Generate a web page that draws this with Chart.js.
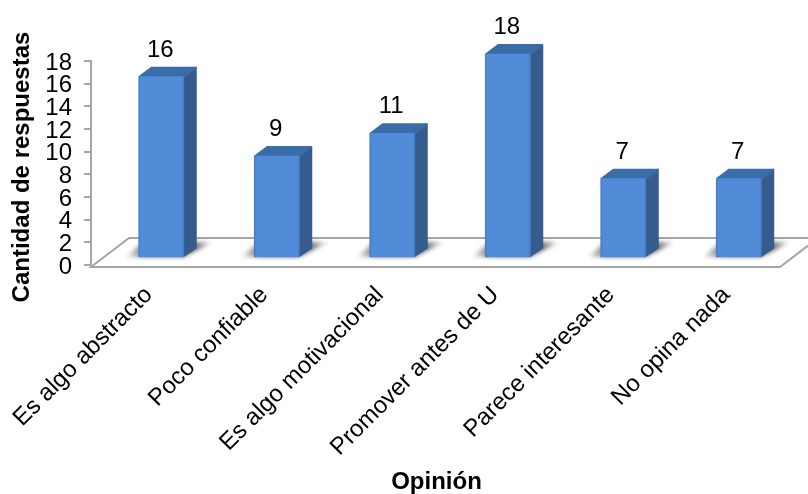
<!DOCTYPE html>
<html>
<head>
<meta charset="utf-8">
<style>
  html, body { margin: 0; padding: 0; background: #fff; }
  canvas { display: block; }
</style>
<script src="https://cdn.jsdelivr.net/npm/chart.js@4/dist/chart.umd.min.js"></script>
</head>
<body>
<canvas id="opinionChart" width="808" height="494"></canvas>
<script>
const categories = ['Es algo abstracto', 'Poco confiable', 'Es algo motivacional', 'Promover antes de U', 'Parece interesante', 'No opina nada'];
const responses = [16, 9, 11, 18, 7, 7];

const fontFamily = '"Liberation Sans", Arial, sans-serif';
const axisGrey = '#A6A6A6';

// Fake 3D: how far the floor recedes, where bars sit on it, how deep a bar is
const floorDepth = { x: 38, y: -29 };
const floorInset = 4;
const barShift = { x: 12.5, y: -7 };
const barDepth = { x: 13, y: -10 };

// Floor outline goes behind everything
const floorPlugin = {
    id: 'floor',
    beforeDatasetsDraw(chart) {
        const { ctx, chartArea: a, width } = chart;
        const frontRight = a.right - floorInset;
        const front = a.bottom + 2;
        ctx.save();
        ctx.strokeStyle = axisGrey;
        ctx.lineWidth = 2;
        ctx.beginPath();
        ctx.moveTo(width, front + floorDepth.y);
        ctx.lineTo(a.left + floorDepth.x, front + floorDepth.y);
        ctx.lineTo(a.left, front);
        ctx.lineTo(frontRight, front);
        ctx.lineTo(width, front + (width - frontRight) * floorDepth.y / floorDepth.x);
        ctx.stroke();
        ctx.restore();
    }
};

function drawBarBack(ctx, bar) {
    const left = bar.x - bar.width / 2;
    const right = bar.x + bar.width / 2;
    const dx = barDepth.x, dy = barDepth.y;

    // soft shadow thrown across the floor
    ctx.save();
    ctx.filter = 'blur(2px)';
    const shade = ctx.createLinearGradient(left - 14, 0, right + 30, 0);
    shade.addColorStop(0, 'rgba(80,80,80,0)');
    shade.addColorStop(0.22, 'rgba(80,80,80,0.8)');
    shade.addColorStop(0.8, 'rgba(80,80,80,0.8)');
    shade.addColorStop(1, 'rgba(80,80,80,0)');
    ctx.fillStyle = shade;
    ctx.beginPath();
    ctx.moveTo(left - 14, bar.base);
    ctx.lineTo(right, bar.base);
    ctx.lineTo(right + 30, bar.base - 15);
    ctx.lineTo(left + 5, bar.base - 15);
    ctx.closePath();
    ctx.fill();
    ctx.restore();

    ctx.lineJoin = 'round';
    ctx.lineWidth = 2;

    // right side face
    ctx.fillStyle = ctx.strokeStyle = '#355C8C';
    ctx.beginPath();
    ctx.moveTo(right, bar.y);
    ctx.lineTo(right + dx - 1, bar.y + dy + 1);
    ctx.lineTo(right + dx - 1, bar.base + dy + 1);
    ctx.lineTo(right, bar.base - 1);
    ctx.closePath();
    ctx.fill();
    ctx.stroke();

    // top face
    ctx.fillStyle = ctx.strokeStyle = '#3A6CA8';
    ctx.beginPath();
    ctx.moveTo(left + 1, bar.y);
    ctx.lineTo(left + dx, bar.y + dy + 1);
    ctx.lineTo(right + dx - 1, bar.y + dy + 1);
    ctx.lineTo(right, bar.y);
    ctx.closePath();
    ctx.fill();
    ctx.stroke();
}

// Bars get pushed back onto the floor and gain their side, top and shadow
const depthPlugin = {
    id: 'depth',
    beforeDatasetDraw(chart, args) {
        const { ctx } = chart;
        ctx.save();
        ctx.translate(barShift.x, barShift.y);
        args.meta.data.forEach(bar => drawBarBack(ctx, bar));
    },
    afterDatasetDraw(chart, args) {
        const { ctx } = chart;
        args.meta.data.forEach(bar => {
            // bevel along the front face
            const left = bar.x - bar.width / 2;
            const edge = ctx.createLinearGradient(left, 0, left + bar.width, 0);
            edge.addColorStop(0, 'rgba(60,110,180,0.6)');
            edge.addColorStop(0.07, 'rgba(90,150,225,0.1)');
            edge.addColorStop(0.93, 'rgba(90,150,225,0.1)');
            edge.addColorStop(1, 'rgba(60,110,180,0.6)');
            ctx.fillStyle = edge;
            ctx.fillRect(left, bar.y, bar.width, bar.base - bar.y);
        });
        ctx.restore();

        // value above each bar
        ctx.save();
        ctx.font = '24px ' + fontFamily;
        ctx.fillStyle = '#000';
        ctx.textAlign = 'center';
        ctx.textBaseline = 'alphabetic';
        args.meta.data.forEach((bar, i) => {
            ctx.fillText(responses[i], bar.x + barShift.x - 1, bar.y + barShift.y - 20);
        });
        ctx.restore();
    }
};

// Small offset for a scale's text, which the layout options can't express
function nudge(scale, method, dx, dy) {
    const original = scale[method];
    scale[method] = function (...args) {
        scale.ctx.save();
        scale.ctx.translate(dx, dy);
        original.apply(scale, args);
        scale.ctx.restore();
    };
}

let textNudged = false;
const textPlugin = {
    id: 'textOffsets',
    beforeDraw(chart) {
        if (textNudged) return;
        textNudged = true;
        nudge(chart.scales.y, 'drawTitle', 0, 4);
        nudge(chart.scales.y, 'drawLabels', 0, 2);
        nudge(chart.scales.x, 'drawTitle', -1, 3);
    }
};

const ctx = document.getElementById('opinionChart').getContext('2d');
new Chart(ctx, {
    type: 'bar',
    data: {
        labels: categories,
        datasets: [{
            data: responses,
            backgroundColor: '#518AD6',
            barThickness: 45,
            clip: false
        }]
    },
    plugins: [floorPlugin, depthPlugin, textPlugin],
    options: {
        responsive: false,
        animation: false,
        layout: { padding: { top: 61, right: 24, left: 0, bottom: 0 } },
        plugins: {
            legend: { display: false },
            title: { display: false },
            tooltip: { enabled: false }
        },
        scales: {
            y: {
                min: 0,
                max: 18,
                afterFit(scale) { scale.width = 91; },
                border: { color: axisGrey, width: 2 },
                grid: { drawOnChartArea: false, color: axisGrey, lineWidth: 2, tickLength: 7 },
                ticks: {
                    stepSize: 2,
                    autoSkip: false,
                    padding: 12,
                    color: '#000',
                    font: { family: fontFamily, size: 24 }
                },
                title: {
                    display: true,
                    text: 'Cantidad de respuestas',
                    color: '#000',
                    padding: { top: 8, bottom: 0 },
                    font: { family: fontFamily, size: 24, weight: 'bold' }
                }
            },
            x: {
                afterFit(scale) { scale.height = 229; },
                border: { display: false },
                grid: { display: false },
                ticks: {
                    minRotation: 45,
                    maxRotation: 45,
                    padding: 8,
                    color: '#000',
                    font: { family: fontFamily, size: 24 }
                },
                title: {
                    display: true,
                    text: 'Opinión',
                    color: '#000',
                    padding: 0,
                    font: { family: fontFamily, size: 24, weight: 'bold' }
                }
            }
        }
    }
});
</script>
</body>
</html>
